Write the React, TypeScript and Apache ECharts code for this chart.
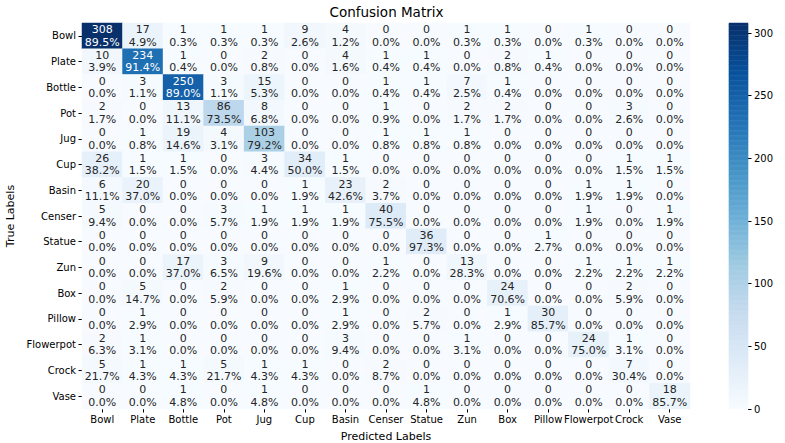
import React, { useEffect, useRef } from "react";
import * as echarts from "echarts";

const categories = ["Bowl", "Plate", "Bottle", "Pot", "Jug", "Cup", "Basin", "Censer", "Statue", "Zun", "Box", "Pillow", "Flowerpot", "Crock", "Vase"];

const rowBowl = [308, 17, 1, 1, 1, 9, 4, 0, 0, 1, 1, 0, 1, 0, 0];
const rowPlate = [10, 234, 1, 0, 2, 0, 4, 1, 1, 0, 2, 1, 0, 0, 0];
const rowBottle = [0, 3, 250, 3, 15, 0, 0, 1, 1, 7, 1, 0, 0, 0, 0];
const rowPot = [2, 0, 13, 86, 8, 0, 0, 1, 0, 2, 2, 0, 0, 3, 0];
const rowJug = [0, 1, 19, 4, 103, 0, 0, 1, 1, 1, 0, 0, 0, 0, 0];
const rowCup = [26, 1, 1, 0, 3, 34, 1, 0, 0, 0, 0, 0, 0, 1, 1];
const rowBasin = [6, 20, 0, 0, 0, 1, 23, 2, 0, 0, 0, 0, 1, 1, 0];
const rowCenser = [5, 0, 0, 3, 1, 1, 1, 40, 0, 0, 0, 0, 1, 0, 1];
const rowStatue = [0, 0, 0, 0, 0, 0, 0, 0, 36, 0, 0, 1, 0, 0, 0];
const rowZun = [0, 0, 17, 3, 9, 0, 0, 1, 0, 13, 0, 0, 1, 1, 1];
const rowBox = [0, 5, 0, 2, 0, 0, 1, 0, 0, 0, 24, 0, 0, 2, 0];
const rowPillow = [0, 1, 0, 0, 0, 0, 1, 0, 2, 0, 1, 30, 0, 0, 0];
const rowFlowerpot = [2, 1, 0, 0, 0, 0, 3, 0, 0, 1, 0, 0, 24, 1, 0];
const rowCrock = [5, 1, 1, 5, 1, 1, 0, 2, 0, 0, 0, 0, 0, 7, 0];
const rowVase = [0, 0, 1, 0, 1, 0, 0, 0, 1, 0, 0, 0, 0, 0, 18];

const matrix = [rowBowl, rowPlate, rowBottle, rowPot, rowJug, rowCup, rowBasin, rowCenser, rowStatue, rowZun, rowBox, rowPillow, rowFlowerpot, rowCrock, rowVase];

const colorMin = 0;
const colorMax = 308;
const colorTicks = 50;
const blues = ["#f7fbff", "#deebf7", "#c6dbef", "#9ecae1", "#6baed6", "#4292c6", "#2171b5", "#08519c", "#08306b"];

const FONT = "DejaVu Sans";

export default function App() {
  const ref = useRef<HTMLDivElement>(null);
  useEffect(() => {
    document.body.style.margin = "0";
    if (!ref.current) return;
    const chart = echarts.init(ref.current, undefined, { renderer: "svg" });

    const cellData: any[] = [];
    matrix.forEach((row, r) => {
      const total = row.reduce((a, b) => a + b, 0);
      row.forEach((v, c) => {
        const pct = total > 0 ? (v / total) * 100 : 0;
        cellData.push({
          value: [c, r, v],
          pct: pct.toFixed(1) + "%",
          label: { color: v / colorMax > 0.45 ? "#ffffff" : "#262626" },
        });
      });
    });

    const barCats: string[] = [];
    const barData: number[][] = [];
    for (let i = colorMin; i <= colorMax; i++) {
      barCats.push(String(i));
      barData.push([0, i - colorMin, i]);
    }

    chart.setOption({
      animation: false,
      textStyle: { fontFamily: FONT },
      grid: [
        { left: 82, top: 23, width: 608, height: 386, outerBoundsMode: "none", containLabel: false },
        { left: 729, top: 23, width: 19, height: 386, outerBoundsMode: "none", containLabel: false },
      ],
      xAxis: [
        {
          type: "category",
          data: categories,
          gridIndex: 0,
          axisLine: { show: false },
          axisTick: { show: true, alignWithLabel: true, length: 3.5, lineStyle: { color: "#000" } },
          axisLabel: { fontSize: 10, color: "#000", margin: 5, interval: 0, fontFamily: FONT },
          splitLine: { show: false },
          name: "Predicted Labels",
          nameLocation: "middle",
          nameGap: 22,
          nameTextStyle: { fontSize: 11, color: "#000", fontFamily: FONT },
        },
        {
          type: "category",
          data: [""],
          gridIndex: 1,
          show: false,
        },
      ],
      yAxis: [
        {
          type: "category",
          data: categories,
          inverse: true,
          gridIndex: 0,
          axisLine: { show: false },
          axisTick: { show: true, alignWithLabel: true, length: 3.5, lineStyle: { color: "#000" } },
          axisLabel: { fontSize: 10, color: "#000", margin: 6, interval: 0, fontFamily: FONT },
          splitLine: { show: false },
          name: "True Labels",
          nameLocation: "middle",
          nameGap: 60,
          nameTextStyle: { fontSize: 11, color: "#000", fontFamily: FONT },
        },
        {
          type: "category",
          data: barCats,
          gridIndex: 1,
          show: false,
        },
        {
          type: "value",
          gridIndex: 1,
          min: colorMin,
          max: colorMax,
          interval: colorTicks,
          position: "right",
          axisLine: { show: false },
          axisTick: { show: true, length: 3.5, lineStyle: { color: "#000" } },
          axisLabel: { fontSize: 10, color: "#000", margin: 6, fontFamily: FONT, showMaxLabel: false },
          splitLine: { show: false },
        },
      ],
      visualMap: {
        show: false,
        min: colorMin,
        max: colorMax,
        dimension: 2,
        seriesIndex: [0, 1],
        inRange: { color: blues },
      },
      graphic: [
        {
          type: "text",
          x: 386.5,
          y: 12,
          style: {
            text: "Confusion Matrix",
            fontSize: 13.5,
            fontFamily: FONT,
            fill: "#000",
            textAlign: "center",
            textVerticalAlign: "middle",
          },
        },
      ],
      series: [
        {
          type: "heatmap",
          xAxisIndex: 0,
          yAxisIndex: 0,
          data: cellData,
          label: {
            show: true,
            fontSize: 11,
            lineHeight: 12.5,
            fontFamily: FONT,
            formatter: (p: any) => p.value[2] + "\n" + p.data.pct,
          },
          itemStyle: { borderWidth: 0 },
          emphasis: { disabled: true },
        },
        {
          type: "heatmap",
          xAxisIndex: 1,
          yAxisIndex: 1,
          data: barData,
          label: { show: false },
          itemStyle: { borderWidth: 0 },
          emphasis: { disabled: true },
          silent: true,
        },
      ],
    });
    return () => chart.dispose();
  }, []);
  return <div ref={ref} style={{ width: 785, height: 443 }} />;
}
